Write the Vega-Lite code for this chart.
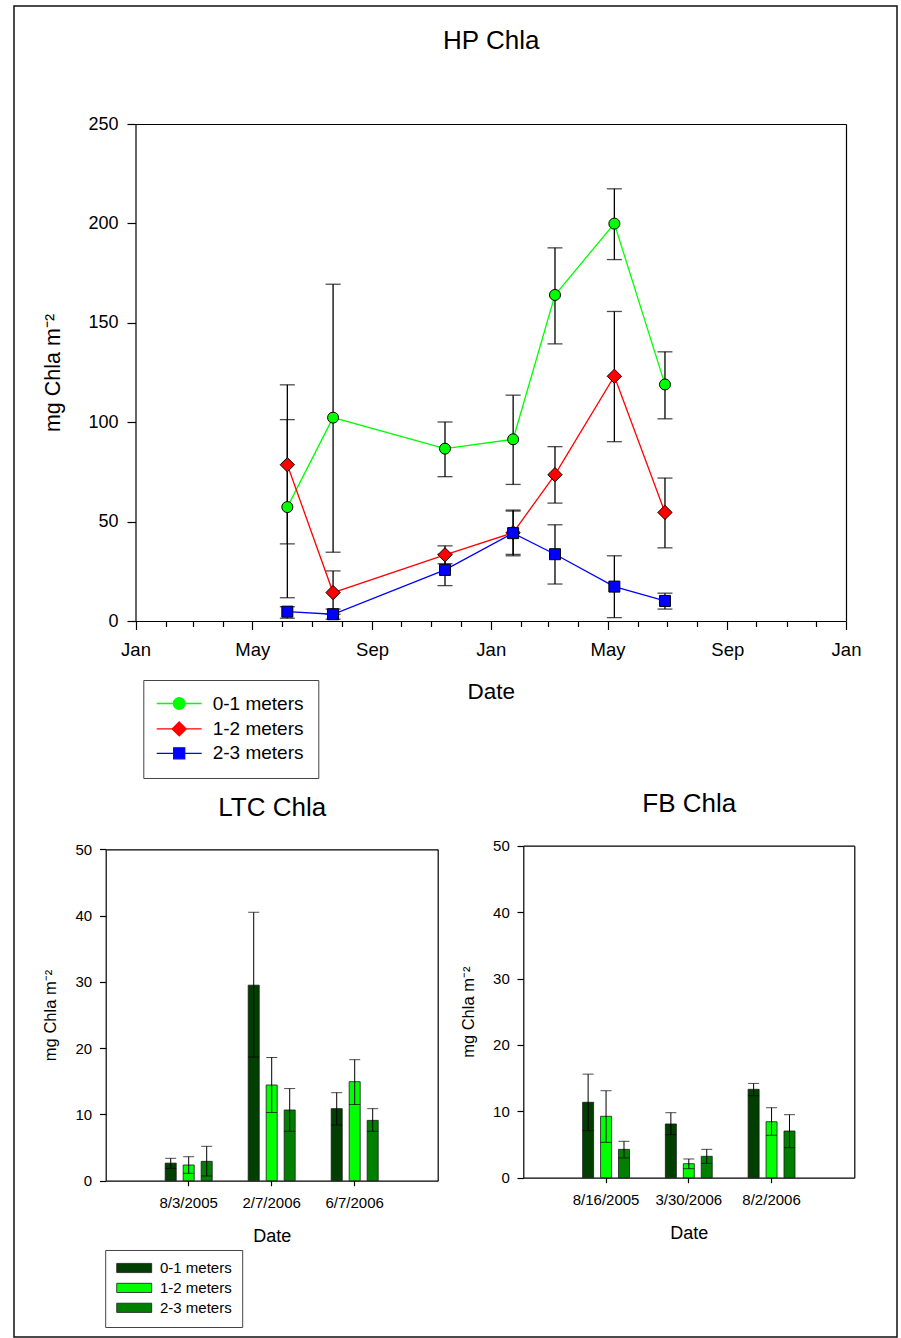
{
  "$schema": "https://vega.github.io/schema/vega-lite/v6.json",
  "background": "white",
  "autosize": "none",
  "width": 883,
  "height": 1331,
  "padding": {"left": 14, "top": 6, "right": 4, "bottom": 1},
  "config": {
    "font": "Liberation Sans",
    "view": {"stroke": "#111111", "strokeWidth": 1.5},
    "axis": {
      "domainColor": "black", "domainWidth": 1.2,
      "tickColor": "black", "tickWidth": 1.2,
      "labelColor": "black", "titleColor": "black",
      "titleFontWeight": "normal", "grid": false
    },
    "legend": {"labelColor": "black"}
  },
  "datasets": {
    "hp": [
      {"date": "2005-06-06", "depth": "0-1 meters", "mean": 57.3, "lo": 11.7, "hi": 101.3},
      {"date": "2005-07-23", "depth": "0-1 meters", "mean": 102.3, "lo": 34.6, "hi": 169.4},
      {"date": "2005-11-15", "depth": "0-1 meters", "mean": 86.7, "lo": 72.6, "hi": 100.1},
      {"date": "2006-01-24", "depth": "0-1 meters", "mean": 91.4, "lo": 68.7, "hi": 113.6},
      {"date": "2006-03-08", "depth": "0-1 meters", "mean": 164.0, "lo": 139.4, "hi": 187.7},
      {"date": "2006-05-08", "depth": "0-1 meters", "mean": 199.9, "lo": 181.8, "hi": 217.4},
      {"date": "2006-06-29", "depth": "0-1 meters", "mean": 119.0, "lo": 101.7, "hi": 135.4},
      {"date": "2005-06-06", "depth": "1-2 meters", "mean": 78.6, "lo": 38.8, "hi": 118.8},
      {"date": "2005-07-23", "depth": "1-2 meters", "mean": 14.3, "lo": 3.4, "hi": 25.2},
      {"date": "2005-11-15", "depth": "1-2 meters", "mean": 33.3, "lo": 28.8, "hi": 37.8},
      {"date": "2006-01-24", "depth": "1-2 meters", "mean": 44.4, "lo": 33.5, "hi": 55.3},
      {"date": "2006-03-08", "depth": "1-2 meters", "mean": 73.6, "lo": 59.3, "hi": 87.7},
      {"date": "2006-05-08", "depth": "1-2 meters", "mean": 123.1, "lo": 90.2, "hi": 155.7},
      {"date": "2006-06-29", "depth": "1-2 meters", "mean": 54.6, "lo": 36.8, "hi": 71.9},
      {"date": "2005-06-06", "depth": "2-3 meters", "mean": 4.7, "lo": 1.4, "hi": 7.2},
      {"date": "2005-07-23", "depth": "2-3 meters", "mean": 3.4, "lo": 0.9, "hi": 6.0},
      {"date": "2005-11-15", "depth": "2-3 meters", "mean": 25.7, "lo": 17.8, "hi": 33.6},
      {"date": "2006-01-24", "depth": "2-3 meters", "mean": 44.2, "lo": 32.8, "hi": 55.8},
      {"date": "2006-03-08", "depth": "2-3 meters", "mean": 33.6, "lo": 18.6, "hi": 48.4},
      {"date": "2006-05-08", "depth": "2-3 meters", "mean": 17.3, "lo": 1.7, "hi": 32.8},
      {"date": "2006-06-29", "depth": "2-3 meters", "mean": 10.1, "lo": 6.0, "hi": 14.0}
    ],
    "ltc": [
      {"date": "8/3/2005", "depth": "0-1 meters", "mean": 2.65, "lo": 1.87, "hi": 3.38},
      {"date": "8/3/2005", "depth": "1-2 meters", "mean": 2.37, "lo": 1.11, "hi": 3.62},
      {"date": "8/3/2005", "depth": "2-3 meters", "mean": 2.92, "lo": 0.71, "hi": 5.19},
      {"date": "2/7/2006", "depth": "0-1 meters", "mean": 29.5, "lo": 18.66, "hi": 40.5},
      {"date": "2/7/2006", "depth": "1-2 meters", "mean": 14.44, "lo": 10.3, "hi": 18.6},
      {"date": "2/7/2006", "depth": "2-3 meters", "mean": 10.67, "lo": 7.45, "hi": 13.9},
      {"date": "6/7/2006", "depth": "0-1 meters", "mean": 10.87, "lo": 8.4, "hi": 13.28},
      {"date": "6/7/2006", "depth": "1-2 meters", "mean": 14.94, "lo": 11.5, "hi": 18.26},
      {"date": "6/7/2006", "depth": "2-3 meters", "mean": 9.1, "lo": 7.45, "hi": 10.87}
    ],
    "fb": [
      {"date": "8/16/2005", "depth": "0-1 meters", "mean": 11.36, "lo": 7.08, "hi": 15.6},
      {"date": "8/16/2005", "depth": "1-2 meters", "mean": 9.25, "lo": 5.33, "hi": 13.1},
      {"date": "8/16/2005", "depth": "2-3 meters", "mean": 4.27, "lo": 2.97, "hi": 5.48},
      {"date": "3/30/2006", "depth": "0-1 meters", "mean": 8.09, "lo": 6.48, "hi": 9.79},
      {"date": "3/30/2006", "depth": "1-2 meters", "mean": 2.11, "lo": 1.36, "hi": 2.82},
      {"date": "3/30/2006", "depth": "2-3 meters", "mean": 3.22, "lo": 2.16, "hi": 4.27},
      {"date": "8/2/2006", "depth": "0-1 meters", "mean": 13.31, "lo": 12.35, "hi": 14.2},
      {"date": "8/2/2006", "depth": "1-2 meters", "mean": 8.43, "lo": 6.39, "hi": 10.54},
      {"date": "8/2/2006", "depth": "2-3 meters", "mean": 7.03, "lo": 4.52, "hi": 9.49}
    ]
  },
  "layer": [
    {
      "data": {"name": "hp"},
      "layer": [
        {
          "mark": {"type": "rule", "color": "black", "strokeWidth": 1.3},
          "encoding": {
            "x": {
              "field": "date", "type": "temporal",
              "scale": {
                "type": "utc", "nice": false, "range": [121.5, 832],
                "domain": [
                  {"year": 2005, "month": 1, "date": 1, "utc": true},
                  {"year": 2007, "month": 1, "date": 1, "utc": true}
                ]
              },
              "axis": {
                "orient": "bottom", "offset": -716,
                "title": "Date", "titleFontSize": 22.5, "titleBaseline": "top", "titleY": 59.3,
                "tickCount": {"interval": "month", "step": 1},
                "labelExpr": "utcmonth(datum.value) % 4 == 0 ? utcFormat(datum.value, '%b') : ''",
                "tickSize": {"condition": {"test": "utcmonth(datum.value) % 4 == 0", "value": 8.5}, "value": 5.5},
                "labelFontSize": 18.5, "labelPadding": 11,
                "labelOverlap": false, "labelFlush": false, "labelBound": false
              }
            },
            "y": {
              "field": "lo", "type": "quantitative",
              "scale": {"domain": [0, 250], "nice": false, "range": [615, 118]},
              "axis": {
                "orient": "left", "offset": -121.5,
                "title": "mg Chla m⁻²", "titleFontSize": 21.5, "titleX": -75.8,
                "titleBaseline": "alphabetic",
                "values": [0, 50, 100, 150, 200, 250],
                "tickSize": 8.5, "labelPadding": 9, "labelFontSize": 18
              }
            },
            "y2": {"field": "hi"}
          }
        },
        {
          "mark": {"type": "tick", "orient": "horizontal", "color": "black", "thickness": 1.3, "size": 15},
          "encoding": {
            "x": {"field": "date", "type": "temporal", "axis": null},
            "y": {"field": "lo", "type": "quantitative", "axis": null}
          }
        },
        {
          "mark": {"type": "tick", "orient": "horizontal", "color": "black", "thickness": 1.3, "size": 15},
          "encoding": {
            "x": {"field": "date", "type": "temporal", "axis": null},
            "y": {"field": "hi", "type": "quantitative", "axis": null}
          }
        },
        {
          "mark": {"type": "line", "strokeWidth": 1.3},
          "encoding": {
            "x": {"field": "date", "type": "temporal", "axis": null},
            "y": {"field": "mean", "type": "quantitative", "axis": null},
            "stroke": {
              "field": "depth", "type": "nominal",
              "scale": {"domain": ["0-1 meters", "1-2 meters", "2-3 meters"], "range": ["#00ff00", "#ff0000", "#0000ff"]},
              "legend": null
            }
          }
        },
        {
          "mark": {"type": "point", "filled": true, "opacity": 1, "size": 121, "stroke": "black", "strokeWidth": 1},
          "encoding": {
            "x": {"field": "date", "type": "temporal", "axis": null},
            "y": {"field": "mean", "type": "quantitative", "axis": null},
            "fill": {
              "field": "depth", "type": "nominal",
              "scale": {"domain": ["0-1 meters", "1-2 meters", "2-3 meters"], "range": ["#00ff00", "#ff0000", "#0000ff"]},
              "legend": null
            },
            "shape": {
              "field": "depth", "type": "nominal",
              "scale": {"domain": ["0-1 meters", "1-2 meters", "2-3 meters"], "range": ["circle", "M-1.3,0L0,-1.3L1.3,0L0,1.3Z", "square"]},
              "legend": null
            }
          }
        },
        {
          "mark": {"type": "point", "filled": true, "opacity": 0, "size": 144, "strokeWidth": 1.3},
          "encoding": {
            "x": {
              "field": "date", "type": "temporal",
              "axis": {
                "orient": "top", "offset": -118, "labels": false, "ticks": false,
                "title": "HP Chla", "titleFontSize": 26, "titleBaseline": "alphabetic", "titleY": -75.5
              }
            },
            "y": {
              "field": "mean", "type": "quantitative",
              "axis": {"orient": "right", "offset": -51, "labels": false, "ticks": false, "title": null}
            },
            "fill": {
              "field": "depth", "type": "nominal",
              "scale": {"domain": ["0-1 meters", "1-2 meters", "2-3 meters"], "range": ["#00ff00", "#ff0000", "#0000ff"]},
              "legend": {
                "orient": "none", "legendX": 129.3, "legendY": 674, "title": null,
                "labelFontSize": 19, "labelOffset": 24, "symbolOffset": 12.4,
                "symbolSize": 144, "symbolStrokeWidth": 1.3, "symbolOpacity": 1,
                "symbolFillColor": "#808080",
                "rowPadding": 4.4, "padding": 14, "strokeColor": "#444444"
              }
            },
            "stroke": {
              "field": "depth", "type": "nominal",
              "scale": {"domain": ["0-1 meters", "1-2 meters", "2-3 meters"], "range": ["#00ff00", "#ff0000", "#0000ff"]},
              "legend": {
                "orient": "none", "legendX": 129.3, "legendY": 674, "title": null,
                "labelFontSize": 19, "labelOffset": 24, "symbolOffset": 12.4,
                "symbolSize": 144, "symbolStrokeWidth": 1.3, "symbolOpacity": 1,
                "symbolFillColor": "#808080",
                "rowPadding": 4.4, "padding": 14, "strokeColor": "#444444"
              }
            },
            "shape": {
              "field": "depth", "type": "nominal",
              "scale": {
                "domain": ["0-1 meters", "1-2 meters", "2-3 meters"],
                "range": [
                  "M-3.75,0H-0.975M0.975,0H3.75M-0.975,0A0.975,0.975,0,1,0,0.975,0A0.975,0.975,0,1,0,-0.975,0Z",
                  "M-3.75,0H-1.167M1.167,0H3.75M-1.167,0L0,-1.167L1.167,0L0,1.167Z",
                  "M-3.75,0H-0.917M0.917,0H3.75M-0.917,-0.917H0.917V0.917H-0.917Z"
                ]
              },
              "legend": {
                "orient": "none", "legendX": 129.3, "legendY": 674, "title": null,
                "labelFontSize": 19, "labelOffset": 24, "symbolOffset": 12.4,
                "symbolSize": 144, "symbolStrokeWidth": 1.3, "symbolOpacity": 1,
                "symbolFillColor": "#808080",
                "rowPadding": 4.4, "padding": 14, "strokeColor": "#444444"
              }
            }
          }
        }
      ],
      "resolve": {
        "scale": {"fill": "independent", "stroke": "independent", "shape": "independent"},
        "axis": {"x": "independent", "y": "independent"}
      }
    },
    {
      "data": {"name": "ltc"},
      "layer": [
        {
          "mark": {"type": "bar", "stroke": "#1a1a1a", "strokeWidth": 0.8},
          "encoding": {
            "x": {
              "field": "date", "type": "nominal",
              "sort": ["8/3/2005", "2/7/2006", "6/7/2006"],
              "scale": {"range": [91.7, 423.7], "paddingInner": 0, "paddingOuter": 0.5},
              "axis": {
                "orient": "bottom", "offset": -156.3,
                "title": "Date", "titleFontSize": 18, "titleBaseline": "top", "titleY": 46.3,
                "labelFontSize": 15, "labelAngle": 0, "labelPadding": 10, "tickSize": 5
              }
            },
            "xOffset": {
              "field": "depth", "type": "nominal",
              "scale": {"paddingInner": 0.3865, "paddingOuter": 1.24}
            },
            "y": {
              "field": "mean", "type": "quantitative",
              "scale": {"domain": [0, 50], "nice": false, "range": [1174.7, 843.3]},
              "axis": {
                "orient": "left", "offset": -91.7,
                "title": "mg Chla m⁻²", "titleFontSize": 16.5, "titleX": -50,
                "titleBaseline": "alphabetic",
                "values": [0, 10, 20, 30, 40, 50],
                "tickSize": 6.3, "labelPadding": 7.7, "labelFontSize": 15
              }
            },
            "fill": {
              "field": "depth", "type": "nominal",
              "scale": {"domain": ["0-1 meters", "1-2 meters", "2-3 meters"], "range": ["#003f00", "#00ff00", "#008000"]},
              "legend": {
                "orient": "none", "legendX": 91.2, "legendY": 1244, "title": null,
                "symbolType": "M-3.8,-1H3.8V1H-3.8Z", "symbolSize": 84.6,
                "symbolStrokeColor": "#1a1a1a", "symbolStrokeWidth": 0.8,
                "labelFontSize": 15, "labelOffset": 18.3, "symbolOffset": 11,
                "rowPadding": 3.9, "padding": 10.5, "strokeColor": "#444444"
              }
            }
          }
        },
        {
          "mark": {"type": "rule", "color": "black", "strokeWidth": 1},
          "encoding": {
            "x": {
              "field": "date", "type": "nominal",
              "sort": ["8/3/2005", "2/7/2006", "6/7/2006"],
              "axis": {
                "orient": "top", "offset": -843.3, "labels": false, "ticks": false,
                "title": "LTC Chla", "titleFontSize": 26, "titleBaseline": "alphabetic", "titleY": -33.8
              }
            },
            "xOffset": {"field": "depth", "type": "nominal"},
            "y": {
              "field": "lo", "type": "quantitative",
              "axis": {"orient": "right", "offset": -459.3, "labels": false, "ticks": false, "title": null}
            },
            "y2": {"field": "hi"}
          }
        },
        {
          "mark": {"type": "tick", "orient": "horizontal", "color": "black", "thickness": 1, "size": 11},
          "encoding": {
            "x": {"field": "date", "type": "nominal", "sort": ["8/3/2005", "2/7/2006", "6/7/2006"], "axis": null},
            "xOffset": {"field": "depth", "type": "nominal"},
            "y": {"field": "lo", "type": "quantitative", "axis": null}
          }
        },
        {
          "mark": {"type": "tick", "orient": "horizontal", "color": "black", "thickness": 1, "size": 11},
          "encoding": {
            "x": {"field": "date", "type": "nominal", "sort": ["8/3/2005", "2/7/2006", "6/7/2006"], "axis": null},
            "xOffset": {"field": "depth", "type": "nominal"},
            "y": {"field": "hi", "type": "quantitative", "axis": null}
          }
        }
      ],
      "resolve": {"axis": {"x": "independent", "y": "independent"}}
    },
    {
      "data": {"name": "fb"},
      "layer": [
        {
          "mark": {"type": "bar", "stroke": "#1a1a1a", "strokeWidth": 0.8},
          "encoding": {
            "x": {
              "field": "date", "type": "nominal",
              "sort": ["8/16/2005", "3/30/2006", "8/2/2006"],
              "scale": {"range": [509.3, 840.3], "paddingInner": 0, "paddingOuter": 0.5},
              "axis": {
                "orient": "bottom", "offset": -159.3,
                "title": "Date", "titleFontSize": 18, "titleBaseline": "top", "titleY": 46.3,
                "labelFontSize": 15, "labelAngle": 0, "labelPadding": 10, "tickSize": 5
              }
            },
            "xOffset": {
              "field": "depth", "type": "nominal",
              "scale": {"paddingInner": 0.3865, "paddingOuter": 1.24}
            },
            "y": {
              "field": "mean", "type": "quantitative",
              "scale": {"domain": [0, 50], "nice": false, "range": [1171.7, 839.7]},
              "axis": {
                "orient": "left", "offset": -509.3,
                "title": "mg Chla m⁻²", "titleFontSize": 16.5, "titleX": -50,
                "titleBaseline": "alphabetic",
                "values": [0, 10, 20, 30, 40, 50],
                "tickSize": 6.3, "labelPadding": 7.7, "labelFontSize": 15
              }
            },
            "fill": {
              "field": "depth", "type": "nominal",
              "scale": {"domain": ["0-1 meters", "1-2 meters", "2-3 meters"], "range": ["#003f00", "#00ff00", "#008000"]},
              "legend": null
            }
          }
        },
        {
          "mark": {"type": "rule", "color": "black", "strokeWidth": 1},
          "encoding": {
            "x": {
              "field": "date", "type": "nominal",
              "sort": ["8/16/2005", "3/30/2006", "8/2/2006"],
              "axis": {
                "orient": "top", "offset": -839.7, "labels": false, "ticks": false,
                "title": "FB Chla", "titleFontSize": 26, "titleBaseline": "alphabetic", "titleY": -34.2
              }
            },
            "xOffset": {"field": "depth", "type": "nominal"},
            "y": {
              "field": "lo", "type": "quantitative",
              "axis": {"orient": "right", "offset": -42.7, "labels": false, "ticks": false, "title": null}
            },
            "y2": {"field": "hi"}
          }
        },
        {
          "mark": {"type": "tick", "orient": "horizontal", "color": "black", "thickness": 1, "size": 11},
          "encoding": {
            "x": {"field": "date", "type": "nominal", "sort": ["8/16/2005", "3/30/2006", "8/2/2006"], "axis": null},
            "xOffset": {"field": "depth", "type": "nominal"},
            "y": {"field": "lo", "type": "quantitative", "axis": null}
          }
        },
        {
          "mark": {"type": "tick", "orient": "horizontal", "color": "black", "thickness": 1, "size": 11},
          "encoding": {
            "x": {"field": "date", "type": "nominal", "sort": ["8/16/2005", "3/30/2006", "8/2/2006"], "axis": null},
            "xOffset": {"field": "depth", "type": "nominal"},
            "y": {"field": "hi", "type": "quantitative", "axis": null}
          }
        }
      ],
      "resolve": {"axis": {"x": "independent", "y": "independent"}}
    }
  ],
  "resolve": {
    "scale": {
      "x": "independent", "y": "independent", "xOffset": "independent",
      "fill": "independent", "stroke": "independent", "shape": "independent"
    }
  }
}
